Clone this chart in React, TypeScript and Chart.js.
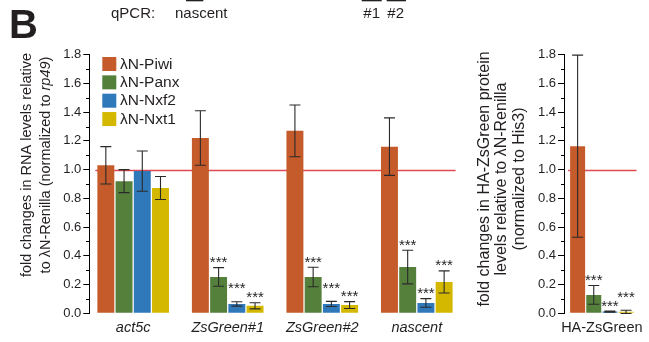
import React, { useEffect, useRef } from 'react';
import { Chart, registerables } from 'chart.js';

Chart.register(...registerables);

// ---- data ----------------------------------------------------------------
const rnaTargets = ['act5c', 'ZsGreen#1', 'ZsGreen#2', 'nascent'];
const proteinTargets = ['HA-ZsGreen'];
const tetheredFactors = ['λN-Piwi', 'λN-Panx', 'λN-Nxf2', 'λN-Nxt1'];

// RNA levels relative to λN-Renilla (mean and SD per amplicon)
const piwiRna = [1.03, 1.22, 1.27, 1.16];
const piwiRnaSd = [0.13, 0.19, 0.18, 0.2];
const panxRna = [0.92, 0.253, 0.253, 0.322];
const panxRnaSd = [0.08, 0.065, 0.068, 0.117];
const nxf2Rna = [0.99, 0.065, 0.065, 0.072];
const nxf2RnaSd = [0.14, 0.015, 0.018, 0.03];
const nxt1Rna = [0.872, 0.052, 0.057, 0.218];
const nxt1RnaSd = [0.08, 0.021, 0.024, 0.077];
const piwiRnaSig = ['', '', '', ''];
const panxRnaSig = ['', '***', '***', '***'];
const nxf2RnaSig = ['', '***', '***', '***'];
const nxt1RnaSig = ['', '***', '***', '***'];

// HA-ZsGreen protein levels relative to λN-Renilla
const piwiProtein = [1.163];
const piwiProteinSd = [0.634];
const panxProtein = [0.128];
const panxProteinSd = [0.065];
const nxf2Protein = [0.012];
const nxf2ProteinSd = [0.004];
const nxt1Protein = [0.01];
const nxt1ProteinSd = [0.011];
const proteinSig = ['', '***', '***', '***'];

const yTicks = [0, 0.2, 0.4, 0.6, 0.8, 1.0, 1.2, 1.4, 1.6, 1.8];
const referenceLevel = 1.0;

// ---- styling ---------------------------------------------------------------
const FONT = '"Liberation Sans", Arial, Helvetica, sans-serif';
const INK = '#231f20';
const seriesColors = ['#c55a2b', '#55803c', '#2f78b9', '#d4b800'];

type Seg = { t: string; italic?: boolean };
type Series = { values: number[]; sd: number[]; sig: string[] };

const rnaSeries: Series[] = [
  { values: piwiRna, sd: piwiRnaSd, sig: piwiRnaSig },
  { values: panxRna, sd: panxRnaSd, sig: panxRnaSig },
  { values: nxf2Rna, sd: nxf2RnaSd, sig: nxf2RnaSig },
  { values: nxt1Rna, sd: nxt1RnaSd, sig: nxt1RnaSig },
];
const proteinSeries: Series[] = [
  { values: piwiProtein, sd: piwiProteinSd, sig: [proteinSig[0]] },
  { values: panxProtein, sd: panxProteinSd, sig: [proteinSig[1]] },
  { values: nxf2Protein, sd: nxf2ProteinSd, sig: [proteinSig[2]] },
  { values: nxt1Protein, sd: nxt1ProteinSd, sig: [proteinSig[3]] },
];

const rnaTitle: Seg[][] = [
  [{ t: 'fold changes in RNA levels relative' }],
  [{ t: 'to λN-Renilla (normalized to ' }, { t: 'rp49', italic: true }, { t: ')' }],
];
const proteinTitle: Seg[][] = [
  [{ t: 'fold changes in HA-ZsGreen protein' }],
  [{ t: 'levels relative to λN-Renilla' }],
  [{ t: '(normalized to His3)' }],
];

interface Panel {
  categories: string[];
  series: Series[];
  italicLabels: boolean;
  xMin: number;
  xMax: number;
  area: { left: number; top: number; right: number; bottom: number };
  categoryPercentage: number;
  barPercentage: number;
  title: Seg[][];
  titleX: number[];
  titleY: number;
  titleSize: number;
  legend: boolean;
  header: boolean;
}

const W = 649;
const H = 342;

const rnaPanel: Panel = {
  categories: rnaTargets,
  series: rnaSeries,
  italicLabels: true,
  xMin: -0.464,
  xMax: 3.457,
  area: { left: 89.3, top: 54.7, right: 460, bottom: 313.3 },
  categoryPercentage: 0.771,
  barPercentage: 0.93,
  title: rnaTitle,
  titleX: [27, 45.7],
  titleY: 165,
  titleSize: 14.5,
  legend: true,
  header: true,
};

const proteinPanel: Panel = {
  categories: proteinTargets,
  series: proteinSeries,
  italicLabels: false,
  xMin: -0.518,
  xMax: 0.482,
  area: { left: 564, top: 54.7, right: 648, bottom: 313.3 },
  categoryPercentage: 0.884,
  barPercentage: 0.93,
  title: proteinTitle,
  titleX: [484.3, 501.7, 520],
  titleY: 179,
  titleSize: 16,
  legend: false,
  header: false,
};

function font(size: number, italic = false, bold = false) {
  return `${italic ? 'italic ' : ''}${bold ? 'bold ' : ''}${size}px ${FONT}`;
}

function drawRotatedLine(ctx: CanvasRenderingContext2D, segs: Seg[], cx: number, cy: number, size: number) {
  ctx.save();
  ctx.translate(cx, cy);
  ctx.rotate(-Math.PI / 2);
  ctx.fillStyle = INK;
  ctx.textBaseline = 'middle';
  ctx.textAlign = 'left';
  let total = 0;
  segs.forEach((s) => {
    ctx.font = font(size, s.italic);
    total += ctx.measureText(s.t).width;
  });
  let x = -total / 2;
  segs.forEach((s) => {
    ctx.font = font(size, s.italic);
    ctx.fillText(s.t, x, 0);
    x += ctx.measureText(s.t).width;
  });
  ctx.restore();
}

function buildPanel(canvas: HTMLCanvasElement, p: Panel) {
  const datasets = p.series.map((s, k) => ({
    label: tetheredFactors[k],
    data: s.values.map((v, i) => ({ x: i, y: v })),
    backgroundColor: seriesColors[k],
    borderWidth: 0,
    categoryPercentage: p.categoryPercentage,
    barPercentage: p.barPercentage,
  }));

  const decorations = {
    id: 'decorations',
    beforeDatasetsDraw(chart: any) {
      // reference line at 1.0 spanning the bar groups
      const ctx = chart.ctx as CanvasRenderingContext2D;
      const y = Math.round(chart.scales.y.getPixelForValue(referenceLevel)) + 0.5;
      const first = chart.getDatasetMeta(0).data[0];
      const lastMeta = chart.getDatasetMeta(p.series.length - 1);
      const last = lastMeta.data[lastMeta.data.length - 1];
      ctx.save();
      ctx.strokeStyle = '#e04a50';
      ctx.lineWidth = 1.3;
      ctx.beginPath();
      ctx.moveTo(first.x - first.width / 2 - 2, y);
      ctx.lineTo(last.x + last.width / 2 + 3, y);
      ctx.stroke();
      ctx.restore();
    },
    afterDatasetsDraw(chart: any) {
      const ctx = chart.ctx as CanvasRenderingContext2D;
      const yScale = chart.scales.y;
      ctx.save();
      // minor ticks between the labelled ones
      ctx.strokeStyle = '#000';
      ctx.lineWidth = 1;
      const ax = Math.round(chart.chartArea.left) + 0.5;
      for (let i = 0; i < yTicks.length - 1; i++) {
        const v = (yTicks[i] + yTicks[i + 1]) / 2;
        const py = Math.round(yScale.getPixelForValue(v)) + 0.5;
        ctx.beginPath();
        ctx.moveTo(ax - 3.5, py);
        ctx.lineTo(ax, py);
        ctx.stroke();
      }
      // error bars
      ctx.strokeStyle = '#2a2a2a';
      ctx.lineWidth = 1.1;
      p.series.forEach((s, k) => {
        const meta = chart.getDatasetMeta(k);
        meta.data.forEach((bar: any, i: number) => {
          const top = yScale.getPixelForValue(s.values[i] + s.sd[i]);
          const bot = yScale.getPixelForValue(s.values[i] - s.sd[i]);
          const x = bar.x;
          ctx.beginPath();
          ctx.moveTo(x, top);
          ctx.lineTo(x, bot);
          ctx.moveTo(x - 5.5, top);
          ctx.lineTo(x + 5.5, top);
          ctx.moveTo(x - 5.5, bot);
          ctx.lineTo(x + 5.5, bot);
          ctx.stroke();
        });
      });
      // significance marks
      ctx.fillStyle = INK;
      ctx.font = font(15);
      ctx.textAlign = 'center';
      ctx.textBaseline = 'alphabetic';
      p.categories.forEach((_, i) => {
        const marks = p.series.map((s, k) => {
          if (!s.sig[i]) return null;
          const bar = chart.getDatasetMeta(k).data[i];
          return { x: bar.x, y: yScale.getPixelForValue(s.values[i] + s.sd[i]) - 9, text: s.sig[i] };
        });
        for (let k = 1; k < marks.length; k++) {
          const a = marks[k - 1];
          const b = marks[k];
          if (a && b && Math.abs(a.y - b.y) < 8) {
            if (b.y < a.y) b.y -= 8;
            else a.y -= 8;
          }
        }
        marks.forEach((m) => {
          if (m) ctx.fillText(m.text, m.x, m.y + 8.5);
        });
      });
      ctx.restore();
    },
    afterDraw(chart: any) {
      const ctx = chart.ctx as CanvasRenderingContext2D;
      ctx.save();
      p.title.forEach((line, i) => drawRotatedLine(ctx, line, p.titleX[i], p.titleY, p.titleSize));
      if (p.legend) {
        ctx.textAlign = 'left';
        ctx.textBaseline = 'middle';
        ctx.font = font(15.5);
        tetheredFactors.forEach((name, k) => {
          const top = 57 + k * 18.35;
          ctx.fillStyle = seriesColors[k];
          ctx.fillRect(102.3, top, 14, 14);
          ctx.fillStyle = INK;
          ctx.fillText(name, 120, top + 7.3);
        });
      }
      if (p.header) {
        ctx.fillStyle = INK;
        ctx.textAlign = 'left';
        ctx.textBaseline = 'alphabetic';
        ctx.font = font(40, false, true);
        ctx.fillText('B', 9, 37.5);
        ctx.font = font(15);
        ctx.fillText('qPCR:', 111, 18.3);
        ctx.fillText('nascent', 175, 18.3);
        ctx.fillText('#1', 363.3, 17.5);
        ctx.fillText('#2', 387.3, 17.5);
        ctx.fillRect(186, 0, 17.3, 1.3);
        ctx.fillRect(361.7, 0, 20, 1.3);
        ctx.fillRect(386.7, 0, 19.3, 1.3);
      }
      ctx.restore();
    },
  };

  return new Chart(canvas, {
    type: 'bar',
    data: { datasets },
    options: {
      responsive: false,
      animation: false,
      events: [],
      layout: { padding: { left: 0, top: p.area.top, right: W - p.area.right, bottom: 0 } },
      plugins: { legend: { display: false }, tooltip: { enabled: false } },
      scales: {
        x: {
          type: 'linear',
          min: p.xMin,
          max: p.xMax,
          offset: false,
          grid: { display: false, drawTicks: false, offset: false },
          border: { display: false },
          afterBuildTicks: (s: any) => {
            s.ticks = p.categories.map((_, i) => ({ value: i }));
          },
          afterFit: (s: any) => {
            s.height = H - p.area.bottom;
          },
          ticks: {
            autoSkip: false,
            maxRotation: 0,
            padding: 6,
            color: INK,
            font: { family: FONT, size: 14.5, style: p.italicLabels ? 'italic' : 'normal' },
            callback: (v: any) => p.categories[Math.round(Number(v))] ?? '',
          },
        },
        y: {
          min: 0,
          max: 1.8,
          afterBuildTicks: (s: any) => {
            s.ticks = yTicks.map((v) => ({ value: v }));
          },
          afterFit: (s: any) => {
            s.width = p.area.left;
          },
          grid: { drawOnChartArea: false, drawTicks: true, tickLength: 6, tickColor: '#000', color: '#000' },
          border: { display: true, color: '#000', width: 1 },
          ticks: {
            padding: 2,
            color: INK,
            font: { family: FONT, size: 13 },
            callback: (v: any) => Number(v).toFixed(1),
          },
        },
      },
    },
    plugins: [decorations],
  } as any);
}

export default function App() {
  const rnaRef = useRef<HTMLCanvasElement>(null);
  const proteinRef = useRef<HTMLCanvasElement>(null);

  useEffect(() => {
    const a = buildPanel(rnaRef.current as HTMLCanvasElement, rnaPanel);
    const b = buildPanel(proteinRef.current as HTMLCanvasElement, proteinPanel);
    return () => {
      a.destroy();
      b.destroy();
    };
  }, []);

  return (
    <div style={{ position: 'absolute', left: 0, top: 0, width: W, height: H, background: '#fff', overflow: 'hidden' }}>
      <canvas ref={rnaRef} width={W} height={H} style={{ position: 'absolute', left: 0, top: 0 }} />
      <canvas ref={proteinRef} width={W} height={H} style={{ position: 'absolute', left: 0, top: 0 }} />
    </div>
  );
}
